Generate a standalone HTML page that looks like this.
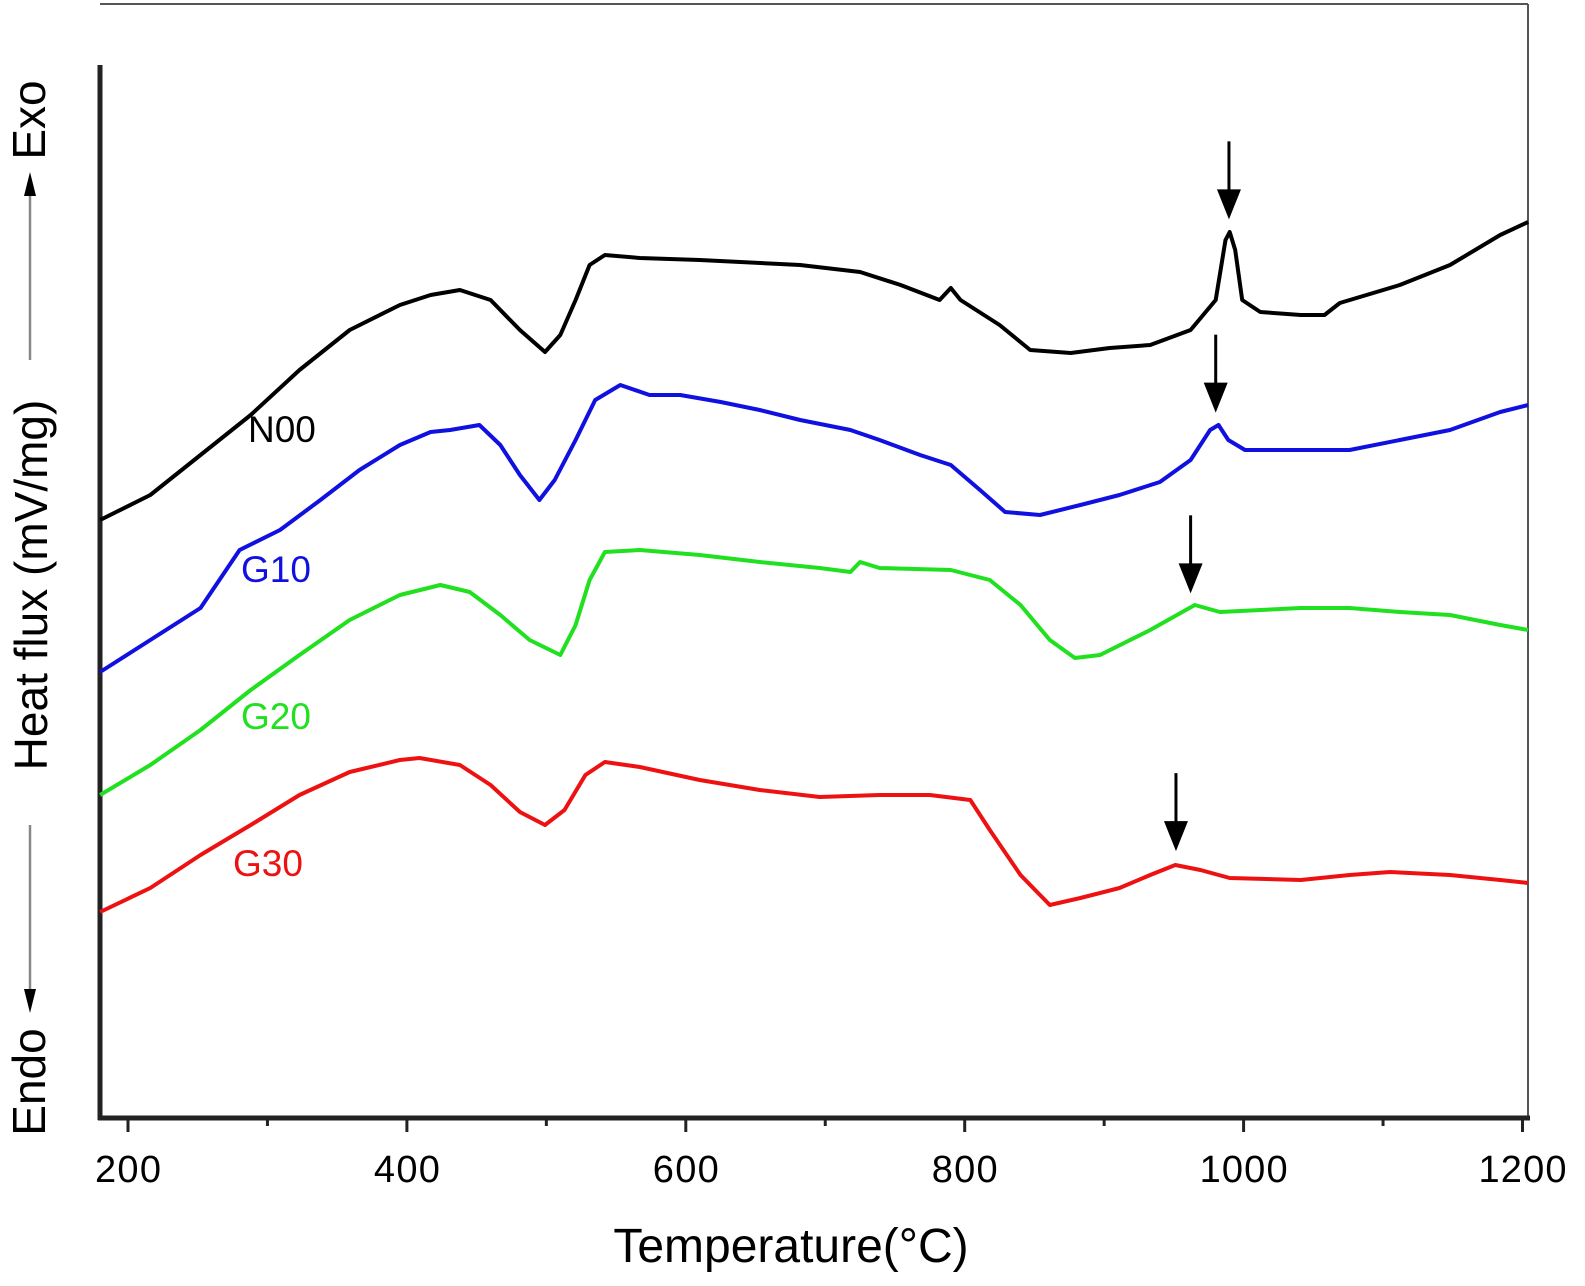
<!DOCTYPE html>
<html><head><meta charset="utf-8"><style>
html,body{margin:0;padding:0;background:#fff;}
svg{display:block;font-family:"Liberation Sans",Arial,sans-serif;}
</style></head><body>
<svg id="chart" width="1585" height="1286" viewBox="0 0 1585 1286">
<rect x="0" y="0" width="1585" height="1286" fill="#fff"/>
<line x1="100" y1="4" x2="1528" y2="4" stroke="#555" stroke-width="2"/>
<line x1="1528" y1="4" x2="1528" y2="1120" stroke="#555" stroke-width="2"/>
<line x1="100" y1="65" x2="100" y2="1120" stroke="#222" stroke-width="5"/>
<line x1="98" y1="1118" x2="1530" y2="1118" stroke="#222" stroke-width="5"/>
<g id="ticks"></g>
<g id="series"></g>
<g id="arrows"></g>
<text x="791" y="1262" font-size="48" text-anchor="middle" fill="#000">Temperature(°C)</text>
<text transform="translate(47,585) rotate(-90)" font-size="46" text-anchor="middle" fill="#000">Heat flux (mV/mg)</text>
<text transform="translate(45,120) rotate(-90)" font-size="46" text-anchor="middle" fill="#000">Exo</text>
<text transform="translate(45,1082) rotate(-90)" font-size="46" text-anchor="middle" fill="#000">Endo</text>
<line x1="30" y1="360" x2="30" y2="190" stroke="#888" stroke-width="2.5"/>
<polygon points="30,172 24,196 36,196" fill="#000"/>
<line x1="30" y1="825" x2="30" y2="995" stroke="#888" stroke-width="2.5"/>
<polygon points="30,1013 24,989 36,989" fill="#000"/>
</svg>
<script>
const majorTicks = [200, 400, 600, 800, 1000, 1200];
const minorTicks = [300, 500, 700, 900, 1100];
const seriesNames = ["N00", "G10", "G20", "G30"];
const n00T = [180,216,252,288,323,359,395,417,438,460,481,499,510,521,531,542,567,610,682,725,754,782,790,797,825,847,876,904,933,962,980,987,990,994,999,1012,1041,1058,1069,1112,1148,1184,1204];
const n00V = [598,623,663,703,748,788,813,823,828,818,788,766,783,818,853,863,860,858,853,846,833,818,830,818,793,768,765,770,773,788,818,878,886,868,818,806,803,803,815,833,853,883,896];
const g10T = [180,216,252,280,309,338,366,395,417,431,452,467,481,495,506,521,535,553,574,596,625,653,682,718,739,768,790,811,829,854,883,911,940,962,976,982,989,1001,1041,1076,1112,1148,1184,1204];
const g10V = [446,478,510,568,588,618,648,673,686,688,693,673,643,618,638,678,718,733,723,723,716,708,698,688,678,663,653,628,606,603,613,623,636,658,688,693,678,668,668,668,678,688,706,713];
const g20T = [180,216,252,288,323,359,395,424,445,467,488,510,521,531,542,567,610,653,696,718,725,739,790,818,840,861,879,897,933,965,983,1041,1076,1112,1148,1184,1204];
const g20V = [323,353,388,428,463,498,523,533,526,503,478,463,493,538,566,568,563,556,550,546,556,550,548,538,513,478,460,463,488,513,506,510,510,506,503,493,488];
const g30T = [180,216,252,288,323,359,395,409,438,460,481,499,513,528,542,567,610,653,696,739,775,804,818,840,861,883,911,933,951,969,990,1041,1076,1105,1148,1184,1204];
const g30V = [206,230,263,293,323,346,358,360,353,333,306,293,308,343,356,351,338,328,321,323,323,318,288,243,213,220,230,243,253,248,240,238,243,246,243,238,235];
const peakTemps = [989.5, 980, 962, 951.5];
const labelPos = [[248,676],[241,536],[241,389],[233,242]];

const NS = "http://www.w3.org/2000/svg";
function xS(t){ return 128 + (t - 200) * 1.3945; }
function yS(v){ return 1118 - v; }
const colors = ["#000000", "#1010e0", "#20e020", "#ee1111"];
const Ts = [n00T, g10T, g20T, g30T];
const Vs = [n00V, g10V, g20V, g30V];

const tickG = document.getElementById("ticks");
majorTicks.forEach(t => {
  const l = document.createElementNS(NS, "line");
  l.setAttribute("x1", xS(t)); l.setAttribute("x2", xS(t));
  l.setAttribute("y1", 1118); l.setAttribute("y2", 1132);
  l.setAttribute("stroke", "#222"); l.setAttribute("stroke-width", "3");
  
  
  tickG.appendChild(l);
  const tx = document.createElementNS(NS, "text");
  tx.setAttribute("x", xS(t)); tx.setAttribute("y", 1182);
  tx.setAttribute("text-anchor", "middle"); tx.setAttribute("font-size", "38");
  tx.setAttribute("textLength", t >= 1000 ? "88" : "66");
  tx.textContent = t;
  
  
  tickG.appendChild(tx);
});
minorTicks.forEach(t => {
  const l = document.createElementNS(NS, "line");
  l.setAttribute("x1", xS(t)); l.setAttribute("x2", xS(t));
  l.setAttribute("y1", 1118); l.setAttribute("y2", 1126);
  l.setAttribute("stroke", "#222"); l.setAttribute("stroke-width", "3");
  
  
  tickG.appendChild(l);
});

const sG = document.getElementById("series");
const aG = document.getElementById("arrows");
seriesNames.forEach((name, i) => {
  const T = Ts[i], V = Vs[i];
  let d = "";
  for (let k = 0; k < T.length; k++) d += (k ? "L" : "M") + xS(T[k]).toFixed(1) + "," + yS(V[k]).toFixed(1);
  const p = document.createElementNS(NS, "path");
  p.setAttribute("d", d); p.setAttribute("fill", "none");
  p.setAttribute("stroke", colors[i]); p.setAttribute("stroke-width", "4");
  p.setAttribute("stroke-linejoin", "round");
  
  
  sG.appendChild(p);
  const lb = document.createElementNS(NS, "text");
  lb.setAttribute("x", labelPos[i][0]); lb.setAttribute("y", yS(labelPos[i][1]));
  lb.setAttribute("font-size", "37"); lb.setAttribute("fill", colors[i]);
  lb.textContent = name;
  
  
  sG.appendChild(lb);
  const pt = peakTemps[i];
  let k = 0; while (k < T.length - 1 && T[k + 1] < pt) k++;
  const f = (pt - T[k]) / (T[k + 1] - T[k]);
  const pv = V[k] + f * (V[k + 1] - V[k]);
  const tipY = yS(pv) - 14, x = xS(pt);
  const al = document.createElementNS(NS, "line");
  al.setAttribute("x1", x); al.setAttribute("x2", x);
  al.setAttribute("y1", tipY - 78); al.setAttribute("y2", tipY - 20);
  al.setAttribute("stroke", "#000"); al.setAttribute("stroke-width", "3");
  
  
  aG.appendChild(al);
  const ah = document.createElementNS(NS, "polygon");
  ah.setAttribute("points", x + "," + tipY + " " + (x - 12) + "," + (tipY - 30) + " " + (x + 12) + "," + (tipY - 30));
  ah.setAttribute("fill", "#000");
  
  
  aG.appendChild(ah);
});
</script>
</body></html>
